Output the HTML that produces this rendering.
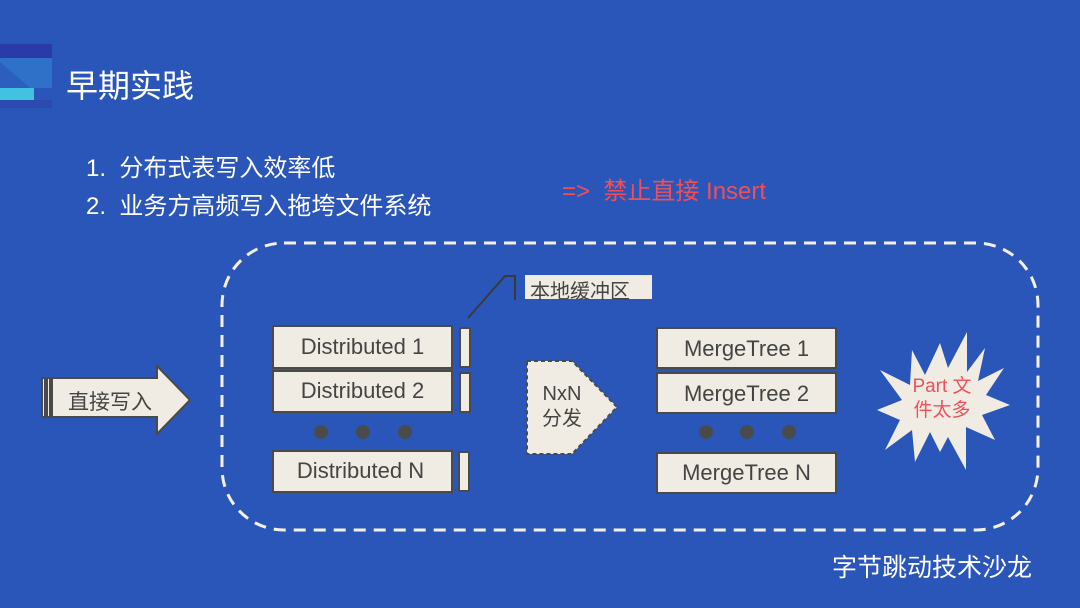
<!DOCTYPE html>
<html><head><meta charset="utf-8"><style>
html,body{margin:0;padding:0}
body{width:1080px;height:608px;background:#2b56b9;position:relative;overflow:hidden;font-family:"Liberation Sans","Noto Sans CJK SC",sans-serif}
.t{position:absolute;white-space:nowrap}
</style></head><body>
<svg width="1080" height="608" style="position:absolute;left:0;top:0">
<rect x="0" y="44" width="52" height="14" fill="#2a3aa8"/>
<polygon points="0,58 52,58 52,88 30,88 0,62" fill="#2f70c8"/>
<polygon points="0,62 30,88 0,88" fill="#2c5ec0"/>
<rect x="0" y="88" width="34" height="12" fill="#41c3e0"/>
<rect x="0" y="100" width="52" height="8" fill="#2d4bae"/>
<rect x="222" y="243" width="816" height="287" rx="62" fill="none" stroke="#f4f0e8" stroke-width="3" stroke-dasharray="12,8"/>
<g fill="#f0ece3" stroke="#4a4a4a" stroke-width="2">
<rect x="42" y="378" width="3" height="39"/><rect x="47" y="378" width="3" height="39"/>
<polygon points="52,378 157,378 157,366 190,400 157,434 157,417 52,417"/>
<rect x="273" y="326" width="179" height="42"/>
<rect x="273" y="371" width="179" height="41"/>
<rect x="273" y="451" width="179" height="41"/>
<rect x="460" y="328" width="10" height="39" rx="1"/>
<rect x="460" y="373" width="10" height="39" rx="1"/>
<rect x="459" y="452" width="10" height="39" rx="1"/>
<rect x="657" y="328" width="179" height="40"/>
<rect x="657" y="373" width="179" height="40"/>
<rect x="657" y="453" width="179" height="40"/>
<polygon points="527,361 572,361 617,407 572,454 527,454" stroke-dasharray="4,3"/>
<polygon points="940,343 948,368 967,332 967,372 985,348 978,381 1004,368 986,395 1010,405 982,415 995,440 966,427 966,470 948,437 940,452 930,432 915,462 912,430 885,450 900,420 877,410 902,400 880,370 910,385 912,350 925,375" stroke="none"/>
</g>
<rect x="525" y="275" width="127" height="24" fill="#f0ece3"/>
<polyline points="468,318 505,276 515,276 515,300" fill="none" stroke="#3a3a3a" stroke-width="2"/>
<g fill="#4a4a4a"><circle cx="321" cy="432" r="7"/><circle cx="363" cy="432" r="7"/><circle cx="405" cy="432" r="7"/>
<circle cx="706" cy="432" r="7"/><circle cx="747" cy="432" r="7"/><circle cx="789" cy="432" r="7"/></g>
</svg>
<div class="t" style="left:66px;top:61px;font-size:32px;color:#fff">早期实践</div>
<div class="t" style="left:86px;top:150px;font-size:24px;color:#fff;line-height:38px">1.&nbsp; 分布式表写入效率低<br>2.&nbsp; 业务方高频写入拖垮文件系统</div>
<div class="t" style="left:562px;top:171px;font-size:24px;color:#f04f5a">=&gt;&nbsp; 禁止直接 Insert</div>
<div class="t" style="left:530px;top:275px;font-size:20px;color:#444">本地缓冲区</div>
<div class="t" style="left:68px;top:386px;font-size:21px;color:#444">直接写入</div>
<div class="t" style="left:273px;top:334px;width:179px;text-align:center;font-size:22px;color:#444">Distributed 1</div>
<div class="t" style="left:273px;top:378px;width:179px;text-align:center;font-size:22px;color:#444">Distributed 2</div>
<div class="t" style="left:271px;top:458px;width:179px;text-align:center;font-size:22px;color:#444">Distributed N</div>
<div class="t" style="left:527px;top:382px;width:70px;text-align:center;font-size:20px;color:#444;line-height:25px">NxN<br>分发</div>
<div class="t" style="left:657px;top:336px;width:179px;text-align:center;font-size:22px;color:#444">MergeTree 1</div>
<div class="t" style="left:657px;top:381px;width:179px;text-align:center;font-size:22px;color:#444">MergeTree 2</div>
<div class="t" style="left:657px;top:460px;width:179px;text-align:center;font-size:22px;color:#444">MergeTree N</div>
<div class="t" style="left:898px;top:375px;width:88px;text-align:center;font-size:19px;color:#f04f5a;line-height:24px">Part 文<br>件太多</div>
<div class="t" style="left:832px;top:548px;font-size:25px;color:#fff">字节跳动技术沙龙</div>
</body></html>
